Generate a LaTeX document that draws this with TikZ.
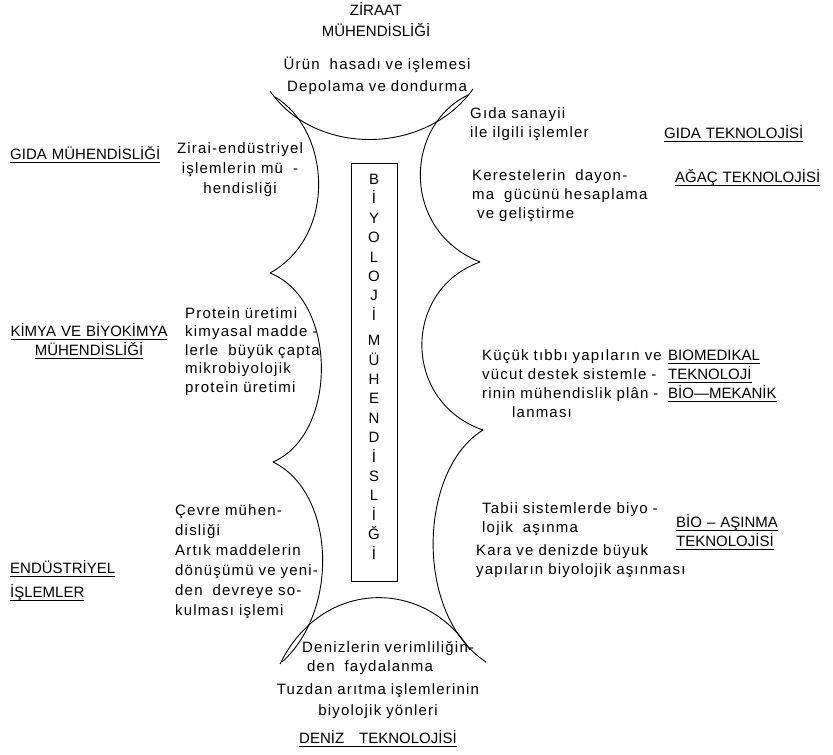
\documentclass[tikz,border=0pt]{standalone}
\usepackage{fontspec}
\setmainfont{Liberation Sans}[LetterSpace=8]
\newfontfamily\capfont{Liberation Sans}
\usepackage{tikz}
\usetikzlibrary{positioning}

\newcommand{\ulbl}[1]{\leavevmode\setbox0=\hbox{#1}\rlap{\rule[-3.5pt]{\wd0}{0.6pt}}\box0}

\begin{document}
\begin{tikzpicture}[
  x=1pt, y=-1pt,
  font=\fontsize{15}{19}\selectfont,
  txt/.style   = {inner sep=0pt, anchor=base west, align=left, text width=215pt},
  ctxt/.style  = {inner sep=0pt, anchor=base, align=center, text width=230pt},
  lbl/.style   = {inner sep=0pt, anchor=base west, align=left, text width=170pt,
                  font=\capfont\fontsize{15}{19}\selectfont},
  clbl/.style  = {ctxt, font=\capfont\fontsize{15}{19}\selectfont},
  bmbox/.style = {draw, line width=0.8pt, minimum width=46pt,
                  minimum height=418pt, inner sep=0pt},
  rim/.style   = {line width=0.9pt}
]
\useasboundingbox (0,0) rectangle (833,755);

% Central box
\node[bmbox] (bm) at (374,372) {};
\node[clbl, font=\capfont\fontsize{15}{19.4}\selectfont] (bmtxt) at (374,184.5)
  {B\\İ\\Y\\O\\L\\O\\J\\İ\\[6pt]M\\Ü\\H\\E\\N\\D\\İ\\S\\L\\İ\\Ğ\\İ};

% Outline
\coordinate (cl1) at (270,273);
\coordinate (cl2) at (273,462);
\coordinate (cr1) at (480,262);
\coordinate (cr2) at (483,430);
\draw[rim] (270,91) .. controls (315,156) and (425,156) .. (473,89);
\draw[rim] (275,97) .. controls (330,130) and (338,235) .. (cl1);
\draw[rim] (cl1) .. controls (338,300) and (338,434) .. (cl2);
\draw[rim] (cl2) .. controls (335,492) and (340,610) .. (282,662);
\draw[rim] (468,95) .. controls (405,125) and (400,230) .. (cr1);
\draw[rim] (cr1) .. controls (402,290) and (402,402) .. (cr2);
\draw[rim] (cr2) .. controls (418,470) and (414,615) .. (486,662);
\draw[rim] (280,664) .. controls (322,578) and (425,578) .. (470,650);

% Top
\node[clbl] (zir)  at (376,15) {ZİRAAT\\[2pt]MÜHENDİSLİĞİ};
\node[ctxt] (urun) at (377,69) {Ürün\ \ hasadı ve işlemesi\\[3pt]Depolama ve dondurma};

% Left side
\node[lbl]  (gmuh)  at (10,159)  {\ulbl{GIDA MÜHENDİSLİĞİ}};
\node[ctxt, font=\fontsize{15}{20}\selectfont] (zirai) at (240,153)
  {Zirai-endüstriyel\\işlemlerin mü\ \ -\\hendisliği};
\node[clbl] (kbm)   at (89,336)  {\ulbl{KİMYA VE BİYOKİMYA}\\\ulbl{MÜHENDİSLİĞİ}};
\node[txt, font=\fontsize{15}{18.5}\selectfont] (prot) at (185,318)
  {Protein üretimi\\kimyasal madde -\\lerle\ \ büyük çapta\\mikrobiyolojik\\protein üretimi};
\node[lbl]  (endl)  at (10,573)  {\ulbl{ENDÜSTRİYEL}\\[5pt]\ulbl{İŞLEMLER}};
\node[txt, font=\fontsize{15}{20}\selectfont] (cevre) at (175,515)
  {Çevre mühen-\\disliği\\Artık maddelerin\\dönüşümü ve yeni-\\den\ \ devreye so-\\kulması işlemi};

% Right side
\node[txt] (gsan)   at (470,118) {Gıda sanayii\\ile ilgili işlemler};
\node[lbl] (gtek)   at (664,138) {\ulbl{GIDA TEKNOLOJİSİ}};
\node[txt] (ker)    at (472,180) {Kerestelerin\ \ dayon-\\ma\ \ gücünü hesaplama\\\ ve geliştirme};
\node[lbl] (agac)   at (675,182) {\ulbl{AĞAÇ TEKNOLOJİSİ}};
\node[txt] (kucuk)  at (482,360) {Küçük tıbbı yapıların ve\\vücut destek sistemle -\\rinin mühendislik plân -\\\hspace*{30pt}lanması};
\node[lbl] (biomed) at (668,360) {\ulbl{BIOMEDIKAL}\\\ulbl{TEKNOLOJİ}\\\ulbl{BİO—MEKANİK}};
\node[txt] (tabii)  at (482,513) {Tabii sistemlerde biyo -\\lojik\ \ aşınma};
\node[txt] (kara)   at (476,555) {Kara ve denizde büyuk\\yapıların biyolojik aşınması};
\node[lbl] (bioas)  at (676,527) {\ulbl{BİO – AŞINMA}\\\ulbl{TEKNOLOJİSİ}};

% Bottom
\node[txt]  (deniz) at (302,652) {Denizlerin verimliliğin-\\\ den\ \ faydalanma};
\node[ctxt] (tuz)   at (378,694) {Tuzdan arıtma işlemlerinin\\[2pt]biyolojik yönleri};
\node[clbl] (dtek)  at (378,743) {\ulbl{DENİZ\ \ \ TEKNOLOJİSİ}};
\end{tikzpicture}
\end{document}
